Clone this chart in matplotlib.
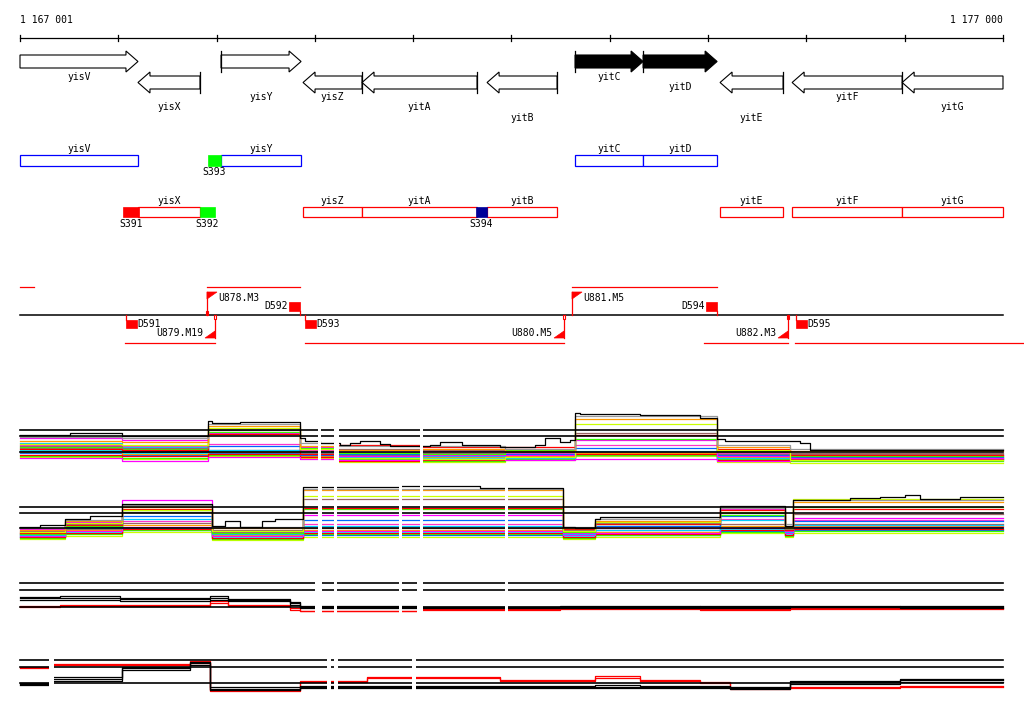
import numpy as np
import matplotlib
matplotlib.use("Agg")
import matplotlib.pyplot as plt
from matplotlib.patches import Polygon, Rectangle

plt.rcParams['font.family'] = 'DejaVu Sans Mono'
plt.rcParams['font.size'] = 7

# region shown
START, END = 1167001, 1177000
BP = (END - START) / 983.0          # bp per pixel
X0 = START - 20 * BP

# genes
gene_names = ['yisV', 'yisX', 'yisY', 'yisZ', 'yitA', 'yitB', 'yitC', 'yitD', 'yitE', 'yitF', 'yitG']
gene_left = [1166880, 1168201, 1169046, 1169880, 1170480, 1171752, 1172647, 1173339, 1174122, 1174855, 1175974]
gene_right = [1168201, 1168832, 1169860, 1170480, 1171650, 1172464, 1173339, 1174092, 1174763, 1175974, 1177150]
gene_strand = [1, -1, 1, -1, -1, -1, 1, 1, -1, -1, -1]
gene_label_row = [0, 3, 2, 2, 3, 4, 0, 1, 4, 2, 3]
gene_filled = ['yitC', 'yitD']

# binding sites on the operon rows
site_names = ['S391', 'S392', 'S393', 'S394']
site_left = [1168049, 1168832, 1168914, 1171640]
site_right = [1168212, 1168985, 1169046, 1171752]
site_strand = [-1, -1, 1, -1]
site_color = ['#ff0000', '#00ff00', '#00ff00', '#000099']

# transcription units, promoters, terminators
tu_left = [1167001, 1168903, 1172616, 1168069, 1169900, 1173960, 1174885]
tu_right = [1167143, 1169849, 1174092, 1168985, 1172535, 1174814, 1177300]
tu_strand = [1, 1, 1, -1, -1, -1, -1]

prom_names = ['U878.M3', 'U879.M19', 'U880.M5', 'U881.M5', 'U882.M3']
prom_pos = [1168903, 1168985, 1172535, 1172616, 1174814]
prom_strand = [1, -1, -1, 1, -1]
prom_base = ['filled', 'open', 'open', 'none', 'filled']

term_names = ['D591', 'D592', 'D593', 'D594', 'D595']
term_pos = [1168079, 1169849, 1169900, 1174092, 1174895]
term_strand = [-1, 1, -1, 1, -1]

# expression profiles, forward strand (panel 1)
p1_edges = [1167001, 1168039, 1168914, 1169849, 1170206, 1171070, 1171935, 1172647, 1174092, 1174834, 1177000]
p1_black_x = [1167001, 1167510, 1168039, 1168914, 1168954, 1169239, 1169849, 1169900, 1170053, 1170256, 1170358,
              1170460, 1170663, 1170765, 1171172, 1171274, 1171497, 1171884, 1172240, 1172342, 1172494, 1172596,
              1172647, 1172698, 1173308, 1173919, 1174092, 1174173, 1174936, 1175038, 1177000]
p1_black = [435, 433, 436, 421, 423, 422, 438, 441, 443, 445, 443, 441, 444, 446, 445, 442, 445, 447, 445, 438,
            442, 440, 413, 414, 415, 418, 439, 441, 443, 450]
p1_grey = [437, 438, 424, 443, 446, 446, 449, 416, 445, 449]
p1_orange = [441, 442, 426, 446, 450, 449, 451, 419, 447, 451]
p1_yellow = [444, 445, 428, 449, 458, 459, 457, 424, 450, 460]
p1_brown = [446, 448, 430, 451, 449, 450, 452, 433, 452, 453]
p1_red = [449, 450, 434, 454, 445, 447, 447, 435, 449, 455]
p1_green = [447, 449, 432, 448, 453, 454, 450, 439, 451, 456]
p1_magenta = [438, 440, 433, 447, 456, 455, 455, 440, 456, 458]
p1_blue = [451, 452, 446, 455, 454, 455, 454, 448, 455, 457]
p1_cyan = [443, 447, 450, 452, 457, 456, 458, 451, 458, 458]
p1_magenta2 = [458, 461, 457, 459, 460, 459, 460, 459, 461, 460]
p1_red2 = [455, 456, 454, 457, 461, 460, 458, 454, 460, 459]
p1_orange2 = [452, 454, 452, 456, 458, 457, 456, 453, 457, 456]
p1_green2 = [456, 458, 455, 456, 459, 461, 459, 455, 459, 461]
p1_brown2 = [448, 451, 450, 453, 455, 453, 455, 452, 454, 454]
p1_cyan2 = [450, 453, 451, 454, 456, 458, 457, 452, 456, 457]
p1_blue2 = [453, 455, 453, 455, 458, 456, 457, 455, 458, 459]
p1_yellow2 = [457, 459, 456, 458, 462, 462, 460, 456, 462, 463]
p1_magenta3 = [445, 446, 444, 450, 452, 451, 453, 445, 453, 455]
p1_refs = [430, 436, 452]
p1_gaps = [(1170033, 1170063), (1170195, 1170246), (1171070, 1171101)]

# expression profiles, reverse strand (panel 2)
p2_edges = [1167001, 1167459, 1168039, 1168954, 1169880, 1172525, 1172850, 1174122, 1174783, 1174865, 1177000]
p2_black_x = [1167001, 1167204, 1167459, 1167713, 1168039, 1168954, 1169086, 1169239, 1169463, 1169595, 1169880,
              1170867, 1171681, 1172525, 1172647, 1172850, 1172901, 1174122, 1174783, 1174865, 1175445, 1175750,
              1176004, 1176157, 1176564, 1177000]
p2_black = [527, 525, 519, 516, 504, 526, 521, 527, 521, 519, 487, 486, 488, 527, 528, 519, 517, 506, 526, 500,
            498, 497, 495, 499, 497]
p2_grey = [528, 520, 505, 527, 489, 527, 519, 508, 524, 500]
p2_orange = [530, 521, 507, 528, 490, 528, 521, 508, 527, 502]
p2_yellow = [532, 523, 510, 531, 496, 531, 522, 512, 528, 499]
p2_brown = [531, 524, 512, 530, 499, 530, 523, 513, 529, 514]
p2_red = [533, 525, 509, 531, 508, 529, 524, 510, 530, 509]
p2_green = [534, 526, 512, 533, 509, 532, 524, 515, 530, 507]
p2_magenta = [529, 522, 500, 533, 515, 533, 522, 509, 531, 518]
p2_blue = [534, 527, 516, 533, 520, 533, 526, 516, 531, 521]
p2_cyan = [535, 528, 519, 534, 526, 534, 530, 520, 532, 525]
p2_magenta2 = [536, 531, 527, 536, 531, 535, 533, 528, 533, 527]
p2_red2 = [537, 533, 529, 538, 533, 537, 534, 530, 535, 529]
p2_orange2 = [535, 530, 525, 535, 530, 534, 532, 526, 532, 526]
p2_green2 = [538, 534, 530, 539, 534, 538, 535, 532, 536, 531]
p2_brown2 = [533, 529, 523, 532, 528, 533, 530, 524, 531, 524]
p2_cyan2 = [536, 532, 528, 537, 532, 536, 533, 529, 534, 528]
p2_blue2 = [537, 533, 530, 538, 535, 537, 535, 531, 535, 530]
p2_yellow2 = [539, 536, 532, 540, 537, 539, 537, 533, 537, 533]
p2_magenta3 = [532, 527, 521, 531, 524, 531, 528, 519, 529, 520]
p2_refs = [507, 513, 528]
p2_gaps = [(1170033, 1170073), (1170195, 1170226), (1170857, 1170887), (1171070, 1171101), (1171935, 1171965)]

# averaged profiles (panels 3 and 4)
p3_edges = [1167001, 1167408, 1168018, 1168934, 1169117, 1169748, 1169849, 1171070, 1172495, 1173919, 1174834,
            1175953, 1177000]
p3_black1 = [597, 596, 598, 598, 599, 602, 606, 607, 606, 607, 606, 607]
p3_black2 = [598, 598, 599, 596, 600, 603, 607, 608, 607, 606, 607, 606]
p3_black3 = [600, 600, 601, 600, 601, 605, 608, 607, 608, 608, 607, 608]
p3_red1 = [606, 605, 605, 601, 605, 608, 611, 609, 608, 609, 608, 608]
p3_red2 = [607, 606, 606, 603, 606, 610, 611, 610, 609, 610, 609, 609]
p3_refs = [583, 590, 607]
p3_gaps = [(1170002, 1170073), (1170195, 1170226), (1170857, 1170887), (1171040, 1171101), (1171935, 1171965)]

p4_edges = [1167001, 1167306, 1168039, 1168730, 1168934, 1169849, 1170531, 1171884, 1172850, 1173308,
            1173919, 1174224, 1174834, 1175953, 1177000]
p4_red1 = [667, 664, 664, 661, 690, 681, 677, 680, 676, 680, 682, 688, 687, 686]
p4_red2 = [668, 665, 665, 663, 691, 682, 678, 681, 678, 681, 683, 689, 688, 687]
p4_black1 = [683, 677, 667, 662, 687, 686, 686, 686, 685, 686, 686, 687, 681, 679]
p4_black2 = [684, 679, 668, 663, 689, 687, 687, 687, 687, 687, 687, 688, 682, 680]
p4_black3 = [685, 681, 670, 665, 690, 688, 688, 688, 688, 688, 688, 689, 684, 682]
p4_refs = [660, 667, 683]
p4_gaps = [(1167296, 1167347), (1170124, 1170165), (1170195, 1170236), (1170989, 1171030)]

fig = plt.figure(figsize=(10.24, 7.14), dpi=100)
ax = fig.add_axes([0, 0, 1, 1])
ax.set_xlim(X0, X0 + 1024 * BP)
ax.set_ylim(714, 0)
ax.axis('off')

# ruler
ax.plot([START, END], [38, 38], color='black', lw=0.9)
ticks = [START] + list(range(1168000, END + 1, 1000))
for t in ticks:
    ax.plot([t, t], [35, 41], color='black', lw=0.9)
ax.text(START, 20, '1 167 001', ha='left', va='center')
ax.text(END, 20, '1 177 000', ha='right', va='center')

# gene arrows
label_y = [77, 87, 97, 107, 118]
head = 12 * BP
for name, l, r, s, row in zip(gene_names, gene_left, gene_right, gene_strand, gene_label_row):
    a, b = max(l, START), min(r, END)
    y = 61.5 if s > 0 else 82.5
    if s > 0:
        base, tip, neck = a, b, b - head
    else:
        base, tip, neck = b, a, a + head
    pts = [(base, y - 6.5), (neck, y - 6.5), (neck, y - 10.5), (tip, y),
           (neck, y + 10.5), (neck, y + 6.5), (base, y + 6.5)]
    fc = 'black' if name in gene_filled else 'white'
    ax.add_patch(Polygon(pts, closed=True, fc=fc, ec='black', lw=0.8))
    if START < (l if s > 0 else r) < END:
        ax.plot([base, base], [y - 10.5, y + 10.5], color='black', lw=0.9)
    ax.text((a + b) / 2, label_y[row], name, ha='center', va='center')

# operon rows
for name, l, r, s in zip(gene_names, gene_left, gene_right, gene_strand):
    a, b = max(l, START), min(r, END)
    top = 155 if s > 0 else 207
    col = '#0000ff' if s > 0 else '#ff0000'
    ax.add_patch(Rectangle((a, top), b - a, 11 if s > 0 else 10, fc='white', ec=col, lw=0.9))
    ax.text((a + b) / 2, top - 6, name, ha='center', va='center')
for name, l, r, s, c in zip(site_names, site_left, site_right, site_strand, site_color):
    top = 155 if s > 0 else 207
    ax.add_patch(Rectangle((l, top), r - l, 11 if s > 0 else 10, fc=c, ec=c, lw=0.5, zorder=3))
    ax.text((l + r) / 2, top + 17, name, ha='center', va='center')

# promoters and terminators
ax.plot([START, END], [315, 315], color='black', lw=1.1)
for l, r, s in zip(tu_left, tu_right, tu_strand):
    y = 287 if s > 0 else 343
    ax.plot([l, r], [y, y], color='#ff0000', lw=0.9)
for name, p, s, kind in zip(prom_names, prom_pos, prom_strand, prom_base):
    if s > 0:
        ax.plot([p, p], [315, 292], color='#ff0000', lw=0.9)
        ax.add_patch(Polygon([(p, 292), (p + 10 * BP, 292), (p, 299)], fc='#ff0000', ec='#ff0000', lw=0.5))
        sq_y = 311
        ax.text(p + 11 * BP, 298, name, ha='left', va='center')
    else:
        ax.plot([p, p], [315, 338], color='#ff0000', lw=0.9)
        ax.add_patch(Polygon([(p, 338), (p - 10 * BP, 338), (p, 331)], fc='#ff0000', ec='#ff0000', lw=0.5))
        sq_y = 315
        ax.text(p - 12 * BP, 333, name, ha='right', va='center')
    if kind != 'none':
        ax.add_patch(Rectangle((p - BP, sq_y), 2 * BP, 4, fc='#ff0000' if kind == 'filled' else 'white',
                               ec='#ff0000', lw=0.8, zorder=3))
for name, p, s in zip(term_names, term_pos, term_strand):
    if s > 0:
        ax.plot([p, p], [315, 311], color='#ff0000', lw=0.9)
        ax.add_patch(Rectangle((p - 11 * BP, 302), 11 * BP, 9, fc='#ff0000', ec='#ff0000', lw=0.5))
        ax.text(p - 12 * BP, 306, name, ha='right', va='center')
    else:
        ax.plot([p, p], [315, 320], color='#ff0000', lw=0.9)
        ax.add_patch(Rectangle((p, 320), 11 * BP, 8, fc='#ff0000', ec='#ff0000', lw=0.5))
        ax.text(p + 11 * BP, 324, name, ha='left', va='center')


def step(edges, vals, color, lw=0.9, z=2):
    xs = np.repeat(edges, 2)[1:-1]
    ys = np.repeat(vals, 2)
    ax.plot(xs, ys, color=color, lw=lw, zorder=z)


def panel(edges, lines, refs, gaps, y0, y1):
    for line in reversed(lines):
        if len(line) == 3:
            step(line[0], line[1], line[2])
        else:
            step(edges, line[0], line[1])
    for r in refs:
        ax.plot([START, END], [r, r], color='black', lw=1.2, zorder=3)
    for a, b in gaps:
        ax.add_patch(Rectangle((a, y0), b - a, y1 - y0, fc='white', ec='none', zorder=4))


panel(p1_edges, [(p1_black_x, p1_black, 'black'), (p1_grey, '#999999'), (p1_orange, '#ff9900'),
                 (p1_yellow, '#ccff00'), (p1_brown, '#996666'), (p1_red, '#ff0000'), (p1_green, '#33ff00'),
                 (p1_magenta, '#ff00ff'), (p1_blue, '#0066ff'), (p1_cyan, '#00ccff'), (p1_magenta2, '#ff00ff'),
                 (p1_red2, '#ff0000'), (p1_orange2, '#ff9900'), (p1_green2, '#33ff00'), (p1_brown2, '#996666'),
                 (p1_cyan2, '#00ffff'), (p1_blue2, '#0066ff'), (p1_yellow2, '#ccff00'), (p1_magenta3, '#ff33cc')],
      p1_refs, p1_gaps, 405, 475)

panel(p2_edges, [(p2_black_x, p2_black, 'black'), (p2_grey, '#999999'), (p2_orange, '#ff9900'),
                 (p2_yellow, '#ccff00'), (p2_brown, '#996666'), (p2_red, '#ff0000'), (p2_green, '#33ff00'),
                 (p2_magenta, '#ff00ff'), (p2_blue, '#0066ff'), (p2_cyan, '#00ccff'), (p2_magenta2, '#ff00ff'),
                 (p2_red2, '#ff0000'), (p2_orange2, '#ff9900'), (p2_green2, '#33ff00'), (p2_brown2, '#996666'),
                 (p2_cyan2, '#00ffff'), (p2_blue2, '#0066ff'), (p2_yellow2, '#ccff00'), (p2_magenta3, '#ff33cc')],
      p2_refs, p2_gaps, 480, 550)

panel(p3_edges, [(p3_black1, 'black'), (p3_black2, 'black'), (p3_black3, 'black'),
                 (p3_red1, '#ff0000'), (p3_red2, '#ff0000')],
      p3_refs, p3_gaps, 578, 618)

panel(p4_edges, [(p4_black1, 'black'), (p4_black2, 'black'), (p4_black3, 'black'),
                 (p4_red1, '#ff0000'), (p4_red2, '#ff0000')],
      p4_refs, p4_gaps, 652, 698)

fig.savefig('out.png', dpi=100)
